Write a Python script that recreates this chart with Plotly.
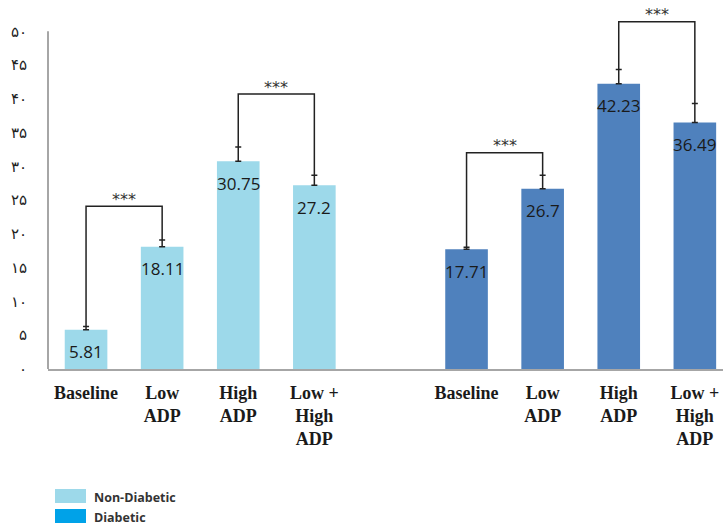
import plotly.graph_objects as go

categories = ["Baseline", "Low<br>ADP", "High<br>ADP", "Low +<br>High<br>ADP"]
non_diabetic = [5.81, 18.11, 30.75, 27.2]
non_diabetic_err = [0.5, 1.0, 2.1, 1.5]
diabetic = [17.71, 26.7, 42.23, 36.49]
diabetic_err = [0.3, 2.0, 2.1, 2.8]
y_ticks = [0, 5, 10, 15, 20, 25, 30, 35, 40, 45, 50]
y_tick_labels = ["۰", "۵", "۱۰", "۱۵", "۲۰", "۲۵", "۳۰", "۳۵", "۴۰", "۴۵", "۵۰"]
nd_brackets = [(0, 1, 24.1), (2, 3, 40.7)]
d_brackets = [(0, 1, 32.0), (2, 3, 51.4)]
legend_labels = ["Non-Diabetic", "Diabetic"]

C_ND = "#9DD9EA"
C_D = "#4F81BD"
C_LEG_D = "#00A2E8"

nd_x = list(range(len(categories)))
d_x = [i + len(categories) + 1 for i in range(len(categories))]

fig = go.Figure()
for xs, vals, errs, col in [(nd_x, non_diabetic, non_diabetic_err, C_ND),
                            (d_x, diabetic, diabetic_err, C_D)]:
    fig.add_trace(go.Bar(
        x=xs, y=vals, width=0.56, marker_color=col, marker_line_width=0,
        error_y=dict(type="data", symmetric=False, array=errs,
                     arrayminus=[0] * len(errs), color="#222222",
                     thickness=1.5, width=3),
        showlegend=False, hoverinfo="skip"))

annotations = []
for xs, vals in [(nd_x, non_diabetic), (d_x, diabetic)]:
    for x, v in zip(xs, vals):
        annotations.append(dict(x=x, y=v, yshift=-22, text=str(v), showarrow=False,
                                font=dict(family="Open Sans", size=17, color="#1a1a1a")))

for xs, vals, errs, brs in [(nd_x, non_diabetic, non_diabetic_err, nd_brackets),
                            (d_x, diabetic, diabetic_err, d_brackets)]:
    for i, j, h in brs:
        fig.add_trace(go.Scatter(
            x=[xs[i], xs[i], xs[j], xs[j]],
            y=[vals[i] + errs[i], h, h, vals[j] + errs[j]],
            mode="lines", line=dict(color="#222222", width=1.5),
            showlegend=False, hoverinfo="skip", cliponaxis=False))
        annotations.append(dict(x=(xs[i] + xs[j]) / 2, y=h, yshift=7, text="***",
                                showarrow=False,
                                font=dict(family="DejaVu Sans", size=16, color="#333333")))

# custom legend
W, H = 723, 526
ml, mr, mt, mb = 48, 0, 11, 157
pw, ph = W - ml - mr, H - mt - mb
def px(x):
    return (x - ml) / pw
def py(y):
    return (H - mb - y) / ph

shapes = [dict(type="line", xref="paper", yref="y", x0=0, x1=0, y0=0, y1=50,
               line=dict(color="#A6A6A6", width=2))]
for k, (lab, col) in enumerate(zip(legend_labels, [C_ND, C_LEG_D])):
    top = 489 + 20 * k
    shapes.append(dict(type="rect", xref="paper", yref="paper",
                       x0=px(55), x1=px(86), y0=py(top), y1=py(top + 14),
                       fillcolor=col, line_width=0))
    annotations.append(dict(xref="paper", yref="paper", x=px(92), y=py(top + 8),
                            xanchor="left", yanchor="middle", text=lab, showarrow=False,
                            font=dict(family="Open Sans", size=12.5, color="#333333",
                                      weight="bold")))

fig.update_layout(
    width=W, height=H, margin=dict(l=ml, r=mr, t=mt, b=mb),
    plot_bgcolor="white", paper_bgcolor="white",
    xaxis=dict(range=[-0.5, 8.37], tickvals=nd_x + d_x, ticktext=categories * 2,
               showline=True, linecolor="#A6A6A6", linewidth=2, showgrid=False,
               zeroline=False, ticks="", ticklabelstandoff=6,
               tickfont=dict(family="Liberation Serif", size=18, color="#1a1a1a",
                             weight="bold")),
    yaxis=dict(range=[0, 53], tickvals=y_ticks, ticktext=y_tick_labels,
               showline=False, showgrid=False, zeroline=False, ticks="",
               ticklabelstandoff=20,
               tickfont=dict(family="DejaVu Sans", size=15, color="#222222")),
    shapes=shapes, annotations=annotations, bargap=0.4,
)

fig.write_html("out.html", config={"displayModeBar": False})
with open("out.html", encoding="utf-8") as f:
    html = f.read()
html = html.replace("<body>", '<body style="margin:0;padding:0;overflow:hidden">', 1)
with open("out.html", "w", encoding="utf-8") as f:
    f.write(html)
